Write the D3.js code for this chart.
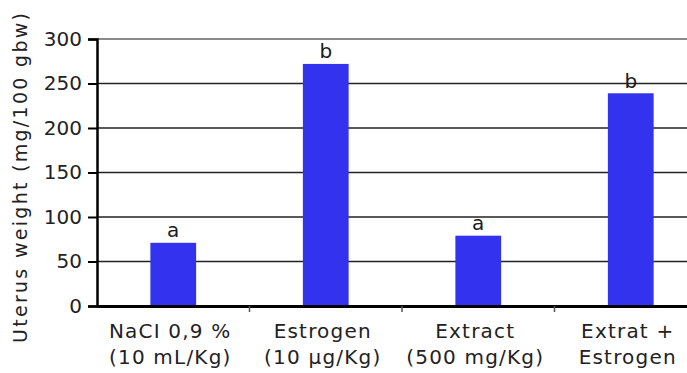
<!DOCTYPE html>
<html><head><meta charset="utf-8">
<script src="https://cdn.jsdelivr.net/npm/d3@7"></script>
<style>body{margin:0;background:#fff}svg{display:block}text{font-family:"DejaVu Sans",Verdana,sans-serif}</style>
</head><body><svg id="c" width="687" height="373"></svg>
<script>
const categories = [["NaCI 0,9 %","(10 mL/Kg)"],["Estrogen","(10 µg/Kg)"],["Extract","(500 mg/Kg)"],["Extrat +","Estrogen"]];
const values = [71, 272, 79, 239];
const letters = ["a","b","a","b"];
const yTicks = [0,50,100,150,200,250,300];
const yTitle = "Uterus weight (mg/100 gbw)";

(function(){
const svg = d3.select("#c");
const mL = 97, mR = 707, mT = 39, mB = 306;
const idx = d3.range(categories.length);
const x = d3.scaleBand().domain(idx).range([mL,mR]).paddingInner(0.7).paddingOuter(0.35);
const xb = d3.scaleBand().domain(idx).range([mL,mR]);
const y = d3.scaleLinear().domain([0,300]).range([mB,mT]);

svg.append("g").selectAll("line").data(yTicks.filter(d=>d>0)).join("line")
  .attr("x1",mL).attr("x2",687).attr("y1",d=>y(d)).attr("y2",d=>y(d))
  .attr("stroke",d=>d===300?"#8a8a8a":"#222").attr("stroke-width",d=>d===300?2.2:1.6);

svg.append("g").selectAll("rect").data(values).join("rect")
  .attr("x",(d,i)=>x(i)).attr("width",x.bandwidth())
  .attr("y",d=>y(d)).attr("height",d=>y(0)-y(d)).attr("fill","#3232ef");

svg.append("g").selectAll("text").data(values).join("text")
  .attr("x",(d,i)=>x(i)+x.bandwidth()/2).attr("y",d=>y(d)-5.5)
  .attr("text-anchor","middle").attr("font-size",20).attr("fill","#1a1a1a")
  .text((d,i)=>letters[i]);

const yAxis = d3.axisLeft(y).tickValues(yTicks).tickSize(9).tickPadding(6);
const gy = svg.append("g").attr("transform",`translate(${mL},0)`).call(yAxis);
gy.select(".domain").attr("stroke","#000").attr("stroke-width",2.5);
gy.selectAll(".tick line").attr("stroke","#000").attr("stroke-width",2);
gy.selectAll(".tick text").attr("font-size",20).attr("fill","#222").style("font-family","DejaVu Sans");

const xAxis = d3.axisBottom(xb).tickValues([]).tickSizeOuter(0);
const gx = svg.append("g").attr("transform",`translate(0,${mB})`).call(xAxis);
gx.select(".domain").attr("stroke","#000").attr("stroke-width",3);
svg.append("g").selectAll("line").data(d3.range(1,categories.length)).join("line")
  .attr("x1",i=>xb(i)).attr("x2",i=>xb(i)).attr("y1",mB).attr("y2",mB+6)
  .attr("stroke","#555").attr("stroke-width",1.5);

const cl = svg.append("g").selectAll("text").data(categories).join("text")
  .attr("text-anchor","middle").attr("font-size",20).attr("letter-spacing",1.2).attr("fill","#222");
cl.each(function(d,i){
  const t = d3.select(this);
  d.forEach((line,k)=>t.append("tspan").attr("x",x(i)+x.bandwidth()/2-3).attr("y",338+k*26).text(line));
});

svg.append("text").attr("transform","translate(27,178) rotate(-90)")
  .attr("text-anchor","middle").attr("font-size",19).attr("fill","#222")
  .attr("textLength",330).attr("lengthAdjust","spacing").text(yTitle);
})();
</script></body></html>
